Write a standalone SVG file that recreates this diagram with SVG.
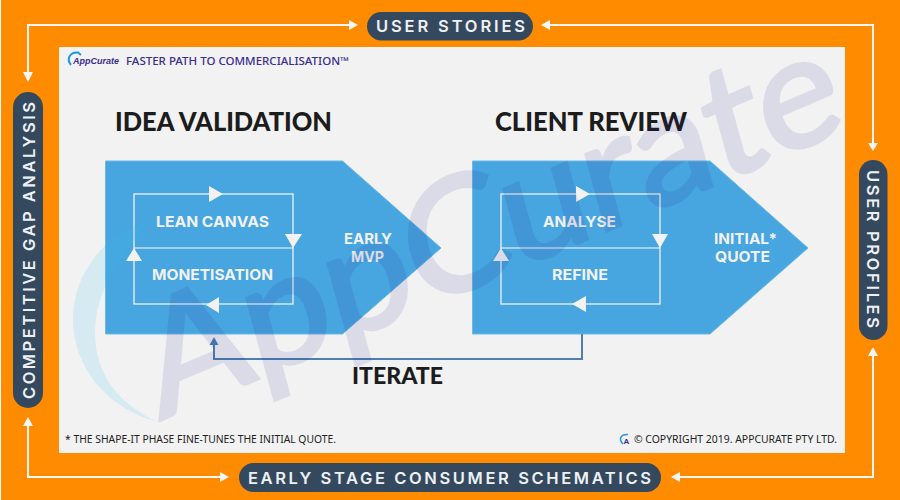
<svg xmlns="http://www.w3.org/2000/svg" width="900" height="500" viewBox="0 0 900 500">
  <style>
    .pill { fill: #35495e; }
    .pilltext { font-family: "Inter", "Liberation Sans", sans-serif; font-size: 16.5px; font-weight: 600; fill: #eef1f4; }
    .head { font-family: "Lato", "Liberation Sans", sans-serif; font-size: 27px; font-weight: 900; fill: #1c1c1c; }
    .lbl { font-family: "Inter", "Liberation Sans", sans-serif; font-size: 15.2px; font-weight: 700; fill: #f2f2f2; }
    .block { fill: #47a5df; stroke: #6db7e6; stroke-width: 1; }
    .loop { fill: none; stroke: #f2f2f2; stroke-width: 1.3; }
    .divider { fill: none; stroke: #f2f2f2; stroke-opacity: .55; stroke-width: 2; }
    .head-arrow { fill: #f2f2f2; }
    .foot { font-family: "Noto Sans", "Liberation Sans", sans-serif; font-size: 10.5px; fill: #222222; }
    .link { fill: none; stroke: #f5f5f5; stroke-width: 2; }
    .tip { fill: #f5f5f5; }
  </style>

  <rect width="900" height="500" fill="#ff8c00"/>
  <rect width="1" height="500" fill="#ffffff"/>
  <rect x="59" y="47" width="786" height="406" fill="#f2f2f2"/>

  <g id="connectors">
    <path class="link" d="M350,25H28V73"/>
    <polygon class="tip" points="358,25 349,20 349,30"/>
    <polygon class="tip" points="28,82 23,72 33,72"/>
    <path class="link" d="M549,25H873V144"/>
    <polygon class="tip" points="541,25 550,20 550,30"/>
    <polygon class="tip" points="873,151 868,143 878,143"/>
    <path class="link" d="M28,425V477H221"/>
    <polygon class="tip" points="28,417 23,426 33,426"/>
    <polygon class="tip" points="229,477 220,472 220,482"/>
    <path class="link" d="M679,477H873V355"/>
    <polygon class="tip" points="671,477 680,472 680,482"/>
    <polygon class="tip" points="873,347 868,356 878,356"/>
  </g>

  <g id="user-stories">
    <rect class="pill" x="367" y="12" width="166" height="28.500" rx="14.250"/>
    <text class="pilltext" x="376" y="32" textLength="149" lengthAdjust="spacing">USER STORIES</text>
  </g>
  <g id="early-stage">
    <rect class="pill" x="239" y="463" width="422" height="29" rx="14.500"/>
    <text class="pilltext" x="248" y="484" textLength="403" lengthAdjust="spacing">EARLY STAGE CONSUMER SCHEMATICS</text>
  </g>
  <g id="gap-analysis">
    <rect class="pill" x="13" y="92" width="30" height="316" rx="15"/>
    <text class="pilltext" transform="translate(34.500,399) rotate(-90)" textLength="297" lengthAdjust="spacing">COMPETITIVE GAP ANALYSIS</text>
  </g>
  <g id="user-profiles">
    <rect class="pill" x="859" y="160" width="28.500" height="180" rx="14.250"/>
    <text class="pilltext" transform="translate(866.500,170) rotate(90)" textLength="158" lengthAdjust="spacing">USER PROFILES</text>
  </g>

  <g id="brand">
    <path d="M71,65C66,59 70,52 78,52.500L81,55" fill="none" stroke="#1f97e0" stroke-width="2"/>
    <text x="73" y="63.500" font-family="Liberation Sans, sans-serif" font-size="9.500" font-weight="700" font-style="italic" fill="#3a2d8c" textLength="46" lengthAdjust="spacingAndGlyphs">AppCurate</text>
    <text x="126" y="65" font-family="Noto Sans, Liberation Sans, sans-serif" font-size="11" font-weight="500" fill="#3a2d8c" textLength="223" lengthAdjust="spacingAndGlyphs">FASTER PATH TO COMMERCIALISATION™</text>
  </g>

  <g id="idea-validation">
    <text class="head" x="115" y="130.500" textLength="217" lengthAdjust="spacingAndGlyphs">IDEA VALIDATION</text>
    <polygon class="block" points="105.500,161 342.500,161 441,248 342.500,334 105.500,334"/>
    <rect class="loop" x="134" y="194" width="159" height="110"/>
    <path class="divider" d="M134,248H293"/>
    <polygon class="head-arrow" points="223,194 209,186 209,202"/>
    <polygon class="head-arrow" points="293,248 285,234 302,234"/>
    <polygon class="head-arrow" points="134,248 126,261 142,261"/>
    <polygon class="head-arrow" points="206,305 219,297 219,313"/>
    <text class="lbl" x="156" y="227" textLength="113" lengthAdjust="spacingAndGlyphs">LEAN CANVAS</text>
    <text class="lbl" x="152" y="280" textLength="121" lengthAdjust="spacingAndGlyphs">MONETISATION</text>
    <text class="lbl" x="344" y="244" textLength="48" lengthAdjust="spacingAndGlyphs">EARLY</text>
    <text class="lbl" x="351" y="262" textLength="33" lengthAdjust="spacingAndGlyphs">MVP</text>
  </g>

  <g id="client-review">
    <text class="head" x="495" y="130.500" textLength="192" lengthAdjust="spacingAndGlyphs">CLIENT REVIEW</text>
    <polygon class="block" points="472.500,161 710,161 808,248 710,334 472.500,334"/>
    <rect class="loop" x="501" y="194" width="159" height="110"/>
    <path class="divider" d="M501,248H660"/>
    <polygon class="head-arrow" points="590,194 576,186 576,202"/>
    <polygon class="head-arrow" points="660,248 652,234 668,234"/>
    <polygon class="head-arrow" points="501,248 493,261 509,261"/>
    <polygon class="head-arrow" points="572,304 586,296 586,312"/>
    <text class="lbl" x="543" y="227" textLength="73" lengthAdjust="spacingAndGlyphs">ANALYSE</text>
    <text class="lbl" x="552" y="280" textLength="56" lengthAdjust="spacingAndGlyphs">REFINE</text>
    <text class="lbl" x="714" y="244" textLength="63" lengthAdjust="spacingAndGlyphs">INITIAL*</text>
    <text class="lbl" x="715" y="262" textLength="55" lengthAdjust="spacingAndGlyphs">QUOTE</text>
  </g>

  <g id="iterate">
    <path d="M582,334V359H214V344" fill="none" stroke="#4b80b1" stroke-width="2"/>
    <polygon points="214,337 209.500,345 218.500,345" fill="#4b80b1"/>
    <text class="head" x="352" y="384" style="font-size:22px" textLength="91" lengthAdjust="spacingAndGlyphs">ITERATE</text>
  </g>

  <g id="footer">
    <text class="foot" x="65" y="443" textLength="271" lengthAdjust="spacingAndGlyphs">* THE SHAPE-IT PHASE FINE-TUNES THE INITIAL QUOTE.</text>
    <path d="M623,444C618,439 621,434 628,434.500" fill="none" stroke="#1f97e0" stroke-width="1.500"/>
    <text x="623.500" y="444" font-family="Liberation Sans, sans-serif" font-size="8" font-weight="700" fill="#3a2d8c">A</text>
    <text class="foot" x="634" y="443" textLength="203" lengthAdjust="spacingAndGlyphs">© COPYRIGHT 2019. APPCURATE PTY LTD.</text>
  </g>

  <!-- Translucent brand mark laid over the whole panel -->
  <g id="brand-mark">
    <path d="M158,422C105,408 73,365 73,320C73,280 95,245 135,225L150,222C115,260 95,295 95,333C95,375 120,405 158,422Z" fill="#32bcf2" fill-opacity=".14"/>
    <text transform="matrix(.92,-.39,.264,.964,160,420)" font-family="Lato, Liberation Sans, sans-serif" font-size="155" font-weight="400" fill="#1d1a8c" stroke="#1d1a8c" stroke-width="4" opacity=".1" textLength="748" lengthAdjust="spacingAndGlyphs">AppCurate</text>
  </g>
</svg>
